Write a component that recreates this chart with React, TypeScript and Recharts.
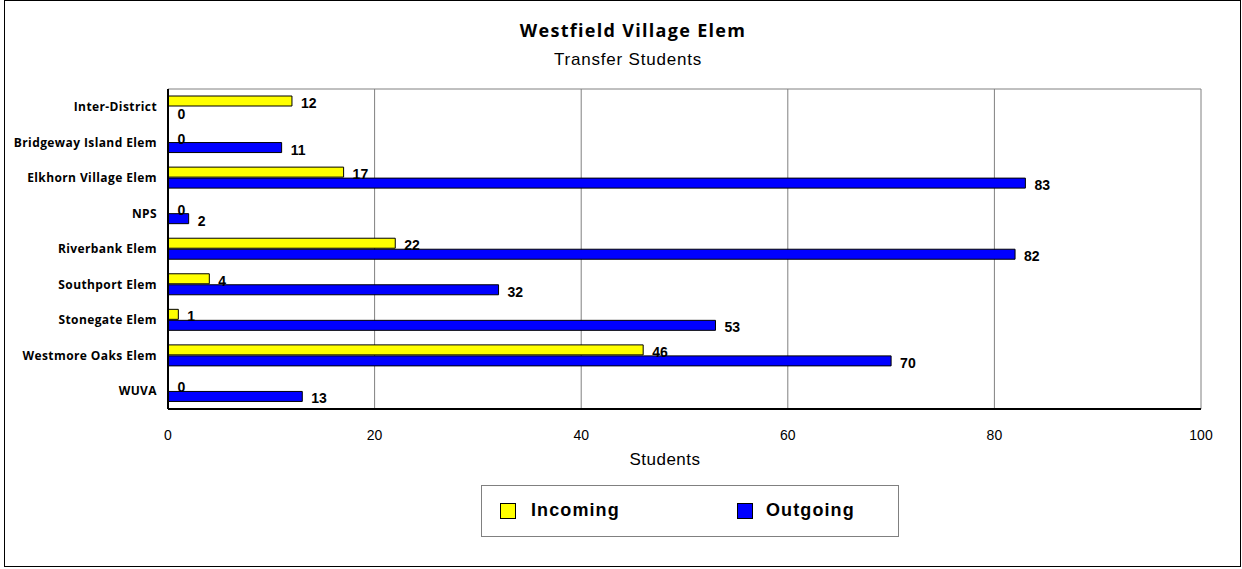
import React from "react";
import {
  Bar,
  BarChart,
  CartesianGrid,
  LabelList,
  XAxis,
  YAxis,
} from "recharts";

const schools = [
  "Inter-District",
  "Bridgeway Island Elem",
  "Elkhorn Village Elem",
  "NPS",
  "Riverbank Elem",
  "Southport Elem",
  "Stonegate Elem",
  "Westmore Oaks Elem",
  "WUVA",
];
const incoming = [12, 0, 17, 0, 22, 4, 1, 46, 0];
const outgoing = [0, 11, 83, 2, 82, 32, 53, 70, 13];
const xTicks = [0, 20, 40, 60, 80, 100];

const data = schools.map((name, i) => ({
  name,
  incoming: incoming[i],
  outgoing: outgoing[i],
}));

const sans = "Arial, 'Liberation Sans', sans-serif";

// draws the value to the right of the bar, zeros included
const ValueLabel = (props: any) => {
  const { x, y, width, height, value } = props;
  if (value === undefined || value === null) return null;
  return (
    <text
      x={Number(x) + Number(width || 0) + 9}
      y={Number(y) + Number(height) / 2 + 7}
      fill="#000"
      fontSize={14}
      fontWeight={700}
      fontFamily={sans}
    >
      {value}
    </text>
  );
};

// zero values still need a (hidden) rect so their "0" label shows
const zeroSize = (value: any) => (Number(value) === 0 ? 0.5 : 0);

const App: React.FC = () => {
  return (
    <div
      style={{
        position: "absolute",
        left: 0,
        top: 0,
        width: 1242,
        height: 569,
        background: "#fff",
        fontFamily: sans,
      }}
    >
      <div
        style={{
          position: "absolute",
          left: 4,
          top: 0,
          width: 1235,
          height: 565,
          border: "1px solid #000",
        }}
      />
      <div
        style={{
          position: "absolute",
          left: 0,
          width: 1266,
          top: 18,
          textAlign: "center",
          fontFamily: "'Open Sans', sans-serif",
          fontWeight: 700,
          fontSize: 18,
          letterSpacing: 1.3,
        }}
      >
        Westfield Village Elem
      </div>
      <div
        style={{
          position: "absolute",
          left: 0,
          width: 1256,
          top: 50,
          textAlign: "center",
          fontSize: 17,
          letterSpacing: 0.8,
        }}
      >
        Transfer Students
      </div>

      <BarChart
        layout="vertical"
        width={1242}
        height={569}
        data={data}
        margin={{ top: 89, right: 41, bottom: 130, left: 0 }}
        barSize={10}
        barGap={1}
        style={{ position: "absolute", left: 0, top: 0 }}
      >
        <CartesianGrid
          horizontal={true}
          vertical={true}
          horizontalPoints={[89]}
          stroke="#808080"
          strokeWidth={1}
        />
        <Bar
          dataKey="incoming"
          fill="#ffff00"
          stroke="#000"
          strokeWidth={1}
          minPointSize={zeroSize}
          isAnimationActive={false}
        >
          <LabelList dataKey="incoming" content={ValueLabel} />
        </Bar>
        <Bar
          dataKey="outgoing"
          fill="#0000ff"
          stroke="#000"
          strokeWidth={1}
          minPointSize={zeroSize}
          isAnimationActive={false}
        >
          <LabelList dataKey="outgoing" content={ValueLabel} />
        </Bar>
        <XAxis
          type="number"
          domain={[0, 100]}
          ticks={xTicks}
          interval={0}
          tickLine={false}
          axisLine={{ stroke: "#000", strokeWidth: 2 }}
          tick={{ fill: "#000", fontSize: 14, fontFamily: sans }}
          tickMargin={15}
        />
        <YAxis
          type="category"
          dataKey="name"
          width={168}
          tickLine={false}
          axisLine={{ stroke: "#000", strokeWidth: 2 }}
          tick={{
            fill: "#000",
            fontSize: 12,
            fontWeight: 700,
            fontFamily: "'Open Sans', sans-serif",
            letterSpacing: 0.4,
          }}
          tickMargin={5}
          interval={0}
        />
      </BarChart>

      <div
        style={{
          position: "absolute",
          left: 0,
          width: 1330,
          top: 450,
          textAlign: "center",
          fontSize: 17,
          letterSpacing: 0.5,
        }}
      >
        Students
      </div>

      <div
        style={{
          position: "absolute",
          left: 481,
          top: 485,
          width: 418,
          height: 52,
          border: "1px solid #808080",
          boxSizing: "border-box",
        }}
      >
        {[
          { label: "Incoming", color: "#ffff00", x: 18, tx: 49 },
          { label: "Outgoing", color: "#0000ff", x: 255, tx: 284 },
        ].map((item) => (
          <React.Fragment key={item.label}>
            <div
              style={{
                position: "absolute",
                left: item.x,
                top: 17,
                width: 16,
                height: 16,
                background: item.color,
                border: "1px solid #000",
                boxSizing: "border-box",
              }}
            />
            <div
              style={{
                position: "absolute",
                left: item.tx,
                top: 14,
                fontSize: 18,
                fontWeight: 700,
                letterSpacing: 1.1,
              }}
            >
              {item.label}
            </div>
          </React.Fragment>
        ))}
      </div>
    </div>
  );
};

export default App;
